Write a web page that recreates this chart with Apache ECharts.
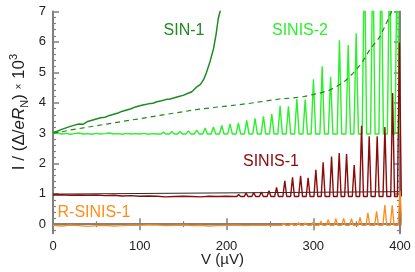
<!DOCTYPE html>
<html><head><meta charset="utf-8">
<script src="https://cdn.jsdelivr.net/npm/echarts@6/dist/echarts.min.js"></script>
<style>html,body{margin:0;padding:0;background:#fff}#c{width:415px;height:272px}</style>
</head><body><div id="c"></div>
<script>
// ---- data (V in µV, I in units of Δ/eR_N × 10^3) ----
const xTicks = [0, 100, 200, 300, 400];
const yTicks = [0, 1, 2, 3, 4, 5, 6, 7];
const yMinor = [-0.2, 0.2, 0.4, 0.6, 0.8, 1.2, 1.4, 1.6, 1.8, 2.2, 2.4, 2.6, 2.8, 3.2, 3.4, 3.6, 3.8, 4.2, 4.4, 4.6, 4.8, 5.2, 5.4, 5.6, 5.8, 6.2, 6.4, 6.6, 6.8];

// SIN-1
const sin1V = [0,5,10,15,20,25,30,35,40,45,50,55,60,65,70,75,80,85,90,95,100,105,110,115,120,125,130,135,140,145,150,155,160,165,170,174,177,181,185,188,190.5,193.5,196];
const sin1I = [3.02,3.06,3.12,3.17,3.22,3.26,3.3,3.29,3.38,3.42,3.46,3.5,3.52,3.58,3.62,3.66,3.72,3.76,3.8,3.86,3.9,3.93,3.96,3.98,4.03,4.06,4.1,4.12,4.16,4.2,4.24,4.3,4.36,4.5,4.6,4.78,5.0,5.35,5.77,6.25,6.77,7.1,7.5];

// dashed reference curve
const dashV = [0,10,20,35,50,69,88,100,127,150,165,185,204,225,242,261,275,289,307,318,327,337,346,356,365,377,386,392];
const dashI = [3.0,3.04,3.1,3.17,3.24,3.33,3.42,3.47,3.6,3.7,3.77,3.84,3.9,3.97,4.04,4.12,4.15,4.2,4.31,4.4,4.53,4.72,4.97,5.3,5.74,6.17,6.72,7.1];

// SINIS-2
const s2BaseV = [0,5,10,15,20,25,30,35,40,45,50,55,60,65,70,75,80,85,90,95,100,105,110,115,120];
const s2BaseI = [2.98,3.0,2.97,2.99,2.96,2.98,3.0,2.97,2.98,2.96,2.99,2.97,2.98,3.0,2.97,2.98,2.96,2.99,2.97,2.98,2.97,2.99,2.96,2.98,2.97];
const s2PeakV = [127.3,136.9,146.5,156.1,165.7,175.3,184.9,194.5,204.1,213.7,223.3,232.9,242.6,252.2,261.8,271.4,281.1,290.7,300.2,310.3,320,330.2,340.3,349.5,359,368.7,378.3,388,396.8];
const s2PeakI = [3.03,3.05,3.05,3.07,3.1,3.17,3.2,3.25,3.3,3.33,3.42,3.48,3.55,3.62,3.9,3.88,4.12,4.1,4.77,5.2,4.85,6.05,5.9,6.28,9,9,9,9,9];
const s2Valley = 2.97;

// SINIS-1
const s1BaseV = [0,10,20,30,40,50,60,70,80,90,100,110,120,130,140,150,160,170,180,190,200,208];
const s1BaseI = [0.96,0.97,0.95,0.96,0.95,0.96,0.94,0.95,0.93,0.94,0.92,0.93,0.92,0.9,0.91,0.92,0.91,0.9,0.92,0.91,0.92,0.91];
const s1PeakV = [214,222.6,231.4,240.2,249,257.7,267.2,276.1,285.4,294.1,303,311.4,321.1,329.9,338.4,347.2,355.7,364.5,373.7,382.6,391.5,399.3];
const s1PeakI = [0.98,1.02,1.04,1.06,1.1,1.21,1.43,1.54,1.59,1.53,1.79,2.04,2.23,2.34,2.31,1.95,3.24,2.89,2.89,3.2,4.32,5.97];
const s1Valley = 0.91;

// linear reference (black)
const refV = [0, 400];
const refI = [0.99, 1.07];

// R-SINIS-1
const oBaseV = [0,10,20,30,40,50,60,70,80,90,100,110,120,130,140,150,160,170,180,190,200,210,222];
const oBaseI = [-0.04,-0.06,-0.03,-0.05,-0.07,-0.05,-0.04,-0.06,-0.05,-0.03,-0.04,-0.02,-0.03,-0.05,-0.04,-0.03,-0.05,-0.04,-0.06,-0.05,-0.04,-0.03,-0.05];
const oPeakV = [230,239,248,257,266,275,283,291,300,308.8,317.2,326,335,344,354,363,373,382.5,391,400];
const oPeakI = [0.0,0.0,0.01,0.02,0.03,0.03,0.05,0.04,0.07,0.1,0.15,0.18,0.19,0.18,0.22,0.37,0.42,0.63,0.62,1.1];
const oValley = -0.04;

// ---- build ----
const zip = (xs, ys) => xs.map((x, i) => [x, ys[i]]);
function spikes(bv, bi, pv, pi, valley, hw) {
  const pts = zip(bv, bi);
  pv.forEach((p, i) => { pts.push([p - hw, valley], [p, pi[i]], [p + hw, valley]); });
  return pts;
}
const GREY = '#808080';
const FONT = 'Liberation Sans, Arial, sans-serif';
const C_SIN1 = '#1f8a1f', C_S2 = '#2cf02c', C_S1 = '#8b0a0a', C_O = '#ff8c1a';

function xAx(pos, labels) {
  return {
    type: 'value', position: pos, min: 0, max: 400, interval: 100,
    axisLine: { show: true, lineStyle: { color: GREY, width: 2 } },
    axisTick: { show: true, inside: true, length: 6, lineStyle: { color: GREY, width: 1.5 } },
    minorTick: { show: true, splitNumber: 2, length: 3, lineStyle: { color: GREY, width: 1.2 } },
    axisLabel: { show: labels, fontSize: 13, color: '#222', margin: 7, fontFamily: FONT },
    splitLine: { show: false }, minorSplitLine: { show: false }
  };
}
function yAx(pos, major, labels) {
  return {
    type: 'value', position: pos, min: -0.3, max: 7,
    axisLine: { show: major, lineStyle: { color: GREY, width: 2 } },
    axisTick: { show: true, inside: true, length: major ? 6 : 3, customValues: major ? yTicks : yMinor, lineStyle: { color: GREY, width: major ? 1.5 : 1.2 } },
    axisLabel: { show: labels, customValues: yTicks, fontSize: 13, color: '#222', margin: 7, fontFamily: FONT },
    splitLine: { show: false }
  };
}
const line = (name, data, color, width, type, z) => ({
  name, type: 'line', data, showSymbol: false, symbol: 'none', clip: true, z,
  xAxisIndex: 0, yAxisIndex: 0, animation: false,
  lineStyle: { color, width, type: type || 'solid' }
});

const chart = echarts.init(document.getElementById('c'), null, { renderer: 'canvas' });
chart.setOption({
  animation: false,
  backgroundColor: '#fff',
  grid: { left: 53, right: 15, top: 11.5, bottom: 38.7, containLabel: false },
  xAxis: [xAx('bottom', true), xAx('top', false)],
  yAxis: [yAx('left', true, true), yAx('left', false, false), yAx('right', true, false), yAx('right', false, false)],
  series: [
    line('SINIS-2', spikes(s2BaseV, s2BaseI, s2PeakV, s2PeakI, s2Valley, 2.6), C_S2, 1.4, null, 2),
    line('dash', zip(dashV, dashI), C_SIN1, 1.2, [5, 4], 3),
    line('SIN-1', zip(sin1V, sin1I), C_SIN1, 1.5, null, 3),
    line('ref', zip(refV, refI), '#111', 0.9, null, 4),
    line('SINIS-1', spikes(s1BaseV, s1BaseI, s1PeakV, s1PeakI, s1Valley, 2.2), C_S1, 1.4, null, 5),
    line('R-SINIS-1', spikes(oBaseV, oBaseI, oPeakV, oPeakI, oValley, 2.2), C_O, 1.3, null, 5)
  ],
  graphic: [
    { type: 'text', x: 184, y: 31, style: { text: 'SIN-1', fill: C_SIN1, font: '16px ' + FONT, align: 'center', verticalAlign: 'middle' } },
    { type: 'text', x: 300, y: 31, style: { text: 'SINIS-2', fill: C_S2, font: '16px ' + FONT, align: 'center', verticalAlign: 'middle' } },
    { type: 'text', x: 271, y: 161.5, style: { text: 'SINIS-1', fill: C_S1, font: '16px ' + FONT, align: 'center', verticalAlign: 'middle' } },
    { type: 'text', x: 94, y: 213, style: { text: 'R-SINIS-1', fill: C_O, font: '16px ' + FONT, align: 'center', verticalAlign: 'middle' } },
    { type: 'text', x: 222.5, y: 260, style: { text: 'V (µV)', fill: '#222', font: '15px ' + FONT, align: 'center', verticalAlign: 'middle' } },
    { type: 'text', x: 19, y: 112, rotation: Math.PI / 2,
      style: {
        text: 'I / (Δ/{it|eR}{sub|N}) {x|×} 10{sup|3}',
        fill: '#222', fontSize: 17, fontFamily: FONT, lineHeight: 22,
        align: 'center', verticalAlign: 'middle',
        rich: {
          it: { fontSize: 17, fontStyle: 'italic', fontFamily: FONT, lineHeight: 22 },
          sub: { fontSize: 11, fontFamily: FONT, verticalAlign: 'bottom', lineHeight: 12 },
          x: { fontSize: 10, fontFamily: FONT, lineHeight: 22 },
          sup: { fontSize: 11, fontFamily: FONT, verticalAlign: 'top', lineHeight: 12 }
        }
      } }
  ]
});
</script>
</body></html>
